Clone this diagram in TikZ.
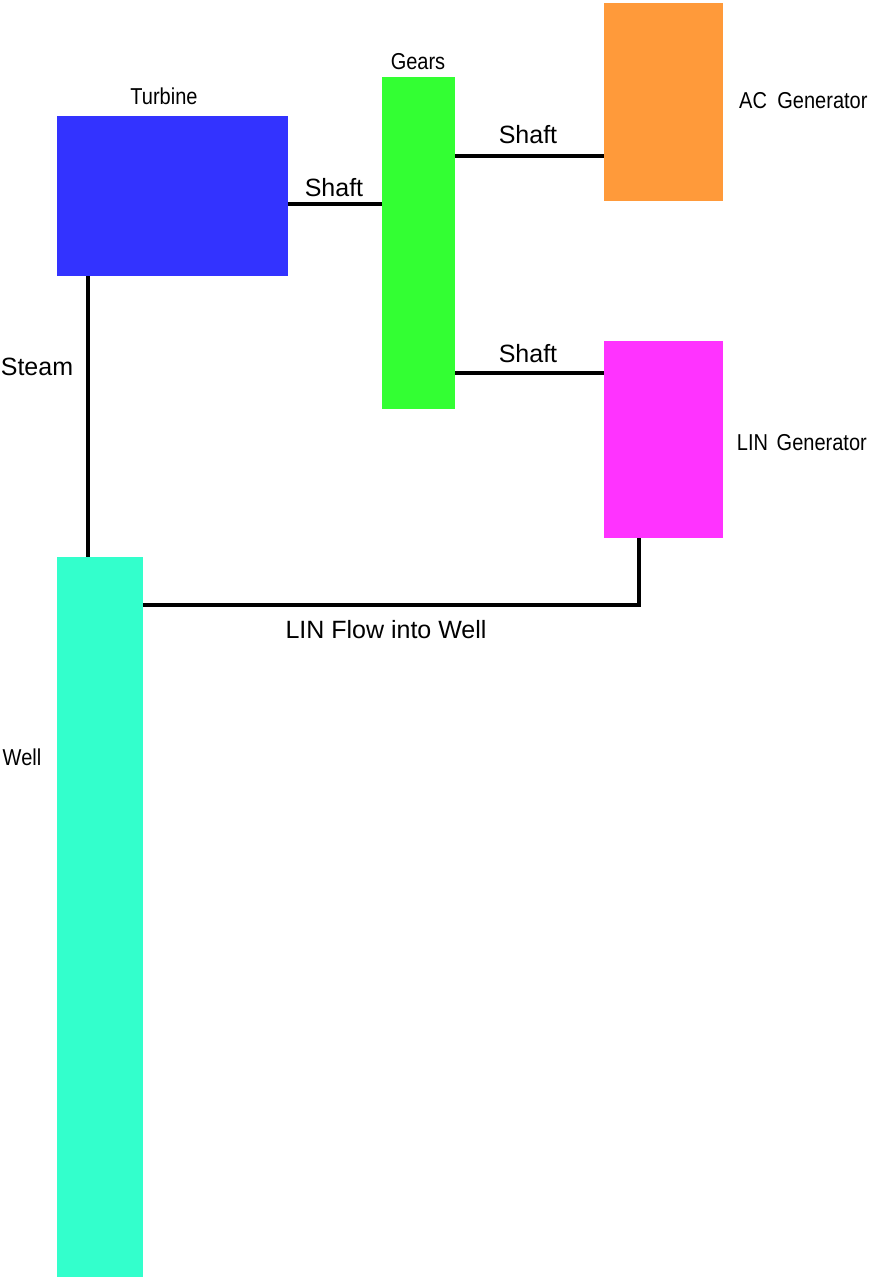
\documentclass[tikz,border=0pt]{standalone}
\usepackage{fontspec}
\setmainfont{Liberation Sans}
\definecolor{turbblue}{HTML}{3333FF}
\definecolor{gearsgreen}{HTML}{33FF33}
\definecolor{acorange}{HTML}{FF9A3A}
\definecolor{linmag}{HTML}{FF33FF}
\definecolor{wellcyan}{HTML}{33FFCC}
\begin{document}
\begin{tikzpicture}[x=1pt,y=-1pt,
  blockbox/.style={rectangle, inner sep=0pt, draw=none},
  conn/.style={line width=4pt, black},
  biglabel/.style={inner sep=0pt, font=\fontsize{25}{28}\selectfont},
  smalllabel/.style={inner sep=0pt, font=\fontsize{23}{25}\selectfont, xscale=0.87}
]
\useasboundingbox[fill=white] (0,0) rectangle (869,1279);
% blocks
\node[blockbox, fill=turbblue, minimum width=231pt, minimum height=160pt] (turbine) at (172.5,196) {};
\node[blockbox, fill=gearsgreen, minimum width=73pt, minimum height=332pt] (gears) at (418.5,243) {};
\node[blockbox, fill=acorange, minimum width=119pt, minimum height=198pt] (acgen) at (663.5,102) {};
\node[blockbox, fill=linmag, minimum width=119pt, minimum height=197pt] (lingen) at (663.5,439.5) {};
\node[blockbox, fill=wellcyan, minimum width=86pt, minimum height=720pt] (well) at (100,917) {};
% connector helper coordinates
\coordinate (s1) at (0,204);
\coordinate (s2) at (0,156);
\coordinate (s3) at (0,373);
\coordinate (st) at (88,0);
\coordinate (lf) at (639,0);
\coordinate (lfy) at (0,605);
% connectors
\draw[conn] (turbine.east |- s1) -- (gears.west |- s1);
\draw[conn] (gears.east |- s2) -- (acgen.west |- s2);
\draw[conn] (gears.east |- s3) -- (lingen.west |- s3);
\draw[conn] (turbine.south -| st) -- (well.north -| st);
\draw[conn, line join=miter] (lingen.south -| lf) -- (lf |- lfy) -- (well.east |- lfy);
% labels
\node[smalllabel] (lturb) at (164,96) {Turbine};
\node[smalllabel] (lgears) at (418,62) {Gears};
\node[smalllabel, anchor=west] (lac) at (739,101) {AC\hspace{12pt}Generator};
\node[smalllabel, anchor=east] (llin) at (867,443) {LIN\hspace{10pt}Generator};
\node[smalllabel] (lwell) at (22,757) {Well};
\node[biglabel] (lsh1) at (334,188) {Shaft};
\node[biglabel] (lsh2) at (528,135) {Shaft};
\node[biglabel] (lsh3) at (528,354) {Shaft};
\node[biglabel] (lsteam) at (37,367) {Steam};
\node[biglabel] (lflow) at (386,630) {LIN Flow into Well};
\end{tikzpicture}
\end{document}
